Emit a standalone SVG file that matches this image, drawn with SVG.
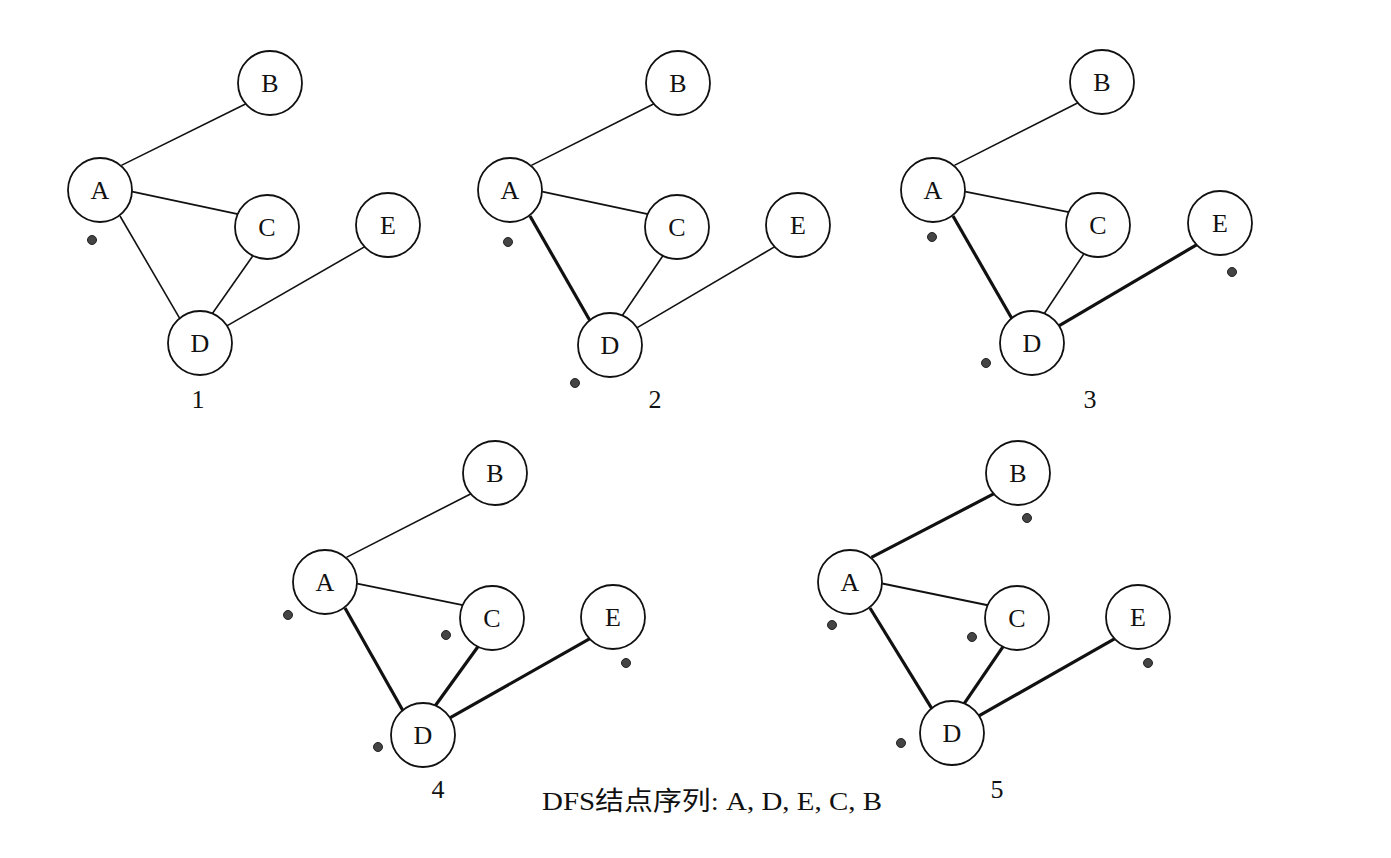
<svg xmlns="http://www.w3.org/2000/svg" width="1391" height="858" viewBox="0 0 1391 858">
<style>
.n circle{fill:#fff;stroke:#111;stroke-width:1.8}
.n text{font-family:"Liberation Serif","Times New Roman",serif;font-size:26px;fill:#111;text-anchor:middle}
.e line{stroke:#111;stroke-width:1.6}
.e line.t{stroke-width:3.2}
.d circle{fill:#444;stroke:#222;stroke-width:1}
.lbl{font-family:"Liberation Serif","Times New Roman",serif;font-size:26px;fill:#111;text-anchor:middle}
</style>
<rect width="1391" height="858" fill="#fff"/>

<!-- Graph 1 -->
<g id="g1-edges" class="e">
<line x1="121.4" y1="165.4" x2="247" y2="103.2"/>
<line x1="132.2" y1="191.6" x2="239.1" y2="214.4"/>
<line x1="120" y1="216" x2="180" y2="318.8"/>
<line x1="252.9" y1="255.8" x2="210.8" y2="315.7"/>
<line x1="226" y1="326.4" x2="365.3" y2="246.4"/>
</g>
<g id="g1-B" class="n"><circle cx="270" cy="83" r="32"/><text x="270" y="92">B</text></g>
<g id="g1-A" class="n"><circle cx="100" cy="190" r="32"/><text x="100" y="199">A</text></g>
<g id="g1-C" class="n"><circle cx="267" cy="227" r="32"/><text x="267" y="236">C</text></g>
<g id="g1-E" class="n"><circle cx="388" cy="225" r="32"/><text x="388" y="234">E</text></g>
<g id="g1-D" class="n"><circle cx="200" cy="343" r="32"/><text x="200" y="352">D</text></g>
<g class="d"><circle cx="92" cy="240" r="4.5"/></g>
<text class="lbl" x="198" y="408">1</text>

<!-- Graph 2 -->
<g id="g2-edges" class="e">
<line x1="531.4" y1="165.4" x2="655" y2="103.2"/>
<line x1="542.2" y1="191.6" x2="649.1" y2="214.4"/>
<line class="t" x1="530" y1="216" x2="590" y2="320.8"/>
<line x1="662.9" y1="255.8" x2="620.8" y2="317.7"/>
<line x1="636" y1="328.4" x2="775.3" y2="246.4"/>
</g>
<g id="g2-B" class="n"><circle cx="678" cy="83" r="32"/><text x="678" y="92">B</text></g>
<g id="g2-A" class="n"><circle cx="510" cy="190" r="32"/><text x="510" y="199">A</text></g>
<g id="g2-C" class="n"><circle cx="677" cy="227" r="32"/><text x="677" y="236">C</text></g>
<g id="g2-E" class="n"><circle cx="798" cy="225" r="32"/><text x="798" y="234">E</text></g>
<g id="g2-D" class="n"><circle cx="610" cy="345" r="32"/><text x="610" y="354">D</text></g>
<g class="d"><circle cx="508" cy="242" r="4.5"/><circle cx="575" cy="383" r="4.5"/></g>
<text class="lbl" x="655" y="408">2</text>

<!-- Graph 3 -->
<g id="g3-edges" class="e">
<line x1="954.4" y1="165.4" x2="1079" y2="102.2"/>
<line x1="965.2" y1="191.6" x2="1070.1" y2="212.4"/>
<line class="t" x1="953" y1="216" x2="1012" y2="318.8"/>
<line x1="1083.9" y1="253.8" x2="1042.8" y2="315.7"/>
<line class="t" x1="1058" y1="326.4" x2="1197.3" y2="244.4"/>
</g>
<g id="g3-B" class="n"><circle cx="1102" cy="82" r="32"/><text x="1102" y="91">B</text></g>
<g id="g3-A" class="n"><circle cx="933" cy="190" r="32"/><text x="933" y="199">A</text></g>
<g id="g3-C" class="n"><circle cx="1098" cy="225" r="32"/><text x="1098" y="234">C</text></g>
<g id="g3-E" class="n"><circle cx="1220" cy="223" r="32"/><text x="1220" y="232">E</text></g>
<g id="g3-D" class="n"><circle cx="1032" cy="343" r="32"/><text x="1032" y="352">D</text></g>
<g class="d"><circle cx="932" cy="237" r="4.5"/><circle cx="986" cy="363" r="4.5"/><circle cx="1232" cy="272" r="4.5"/></g>
<text class="lbl" x="1090" y="408">3</text>

<!-- Graph 4 -->
<g id="g4-edges" class="e">
<line x1="346.4" y1="557.4" x2="472" y2="493.2"/>
<line x1="357.2" y1="583.6" x2="464.1" y2="605.4"/>
<line class="t" x1="345" y1="608" x2="403" y2="710.8"/>
<line class="t" x1="477.9" y1="646.8" x2="433.8" y2="707.7"/>
<line class="t" x1="449" y1="718.4" x2="590.3" y2="638.4"/>
</g>
<g id="g4-B" class="n"><circle cx="495" cy="473" r="32"/><text x="495" y="482">B</text></g>
<g id="g4-A" class="n"><circle cx="325" cy="582" r="32"/><text x="325" y="591">A</text></g>
<g id="g4-C" class="n"><circle cx="492" cy="618" r="32"/><text x="492" y="627">C</text></g>
<g id="g4-E" class="n"><circle cx="613" cy="617" r="32"/><text x="613" y="626">E</text></g>
<g id="g4-D" class="n"><circle cx="423" cy="735" r="32"/><text x="423" y="744">D</text></g>
<g class="d"><circle cx="288" cy="615" r="4.5"/><circle cx="446" cy="635" r="4.5"/><circle cx="378" cy="747" r="4.5"/><circle cx="626" cy="663" r="4.5"/></g>
<text class="lbl" x="438" y="798">4</text>

<!-- Graph 5 -->
<g id="g5-edges" class="e">
<line class="t" x1="871.4" y1="557.4" x2="995" y2="493.2"/>
<line x1="882.2" y1="583.6" x2="989.1" y2="605.4" style="stroke-width:2"/>
<line class="t" x1="870" y1="608" x2="932" y2="708.8"/>
<line class="t" x1="1002.9" y1="646.8" x2="962.8" y2="705.7"/>
<line class="t" x1="978" y1="716.4" x2="1115.3" y2="638.4"/>
</g>
<g id="g5-B" class="n"><circle cx="1018" cy="473" r="32"/><text x="1018" y="482">B</text></g>
<g id="g5-A" class="n"><circle cx="850" cy="582" r="32"/><text x="850" y="591">A</text></g>
<g id="g5-C" class="n"><circle cx="1017" cy="618" r="32"/><text x="1017" y="627">C</text></g>
<g id="g5-E" class="n"><circle cx="1138" cy="617" r="32"/><text x="1138" y="626">E</text></g>
<g id="g5-D" class="n"><circle cx="952" cy="733" r="32"/><text x="952" y="742">D</text></g>
<g class="d"><circle cx="1027" cy="518" r="4.5"/><circle cx="832" cy="625" r="4.5"/><circle cx="972" cy="637" r="4.5"/><circle cx="1148" cy="663" r="4.5"/><circle cx="901" cy="743" r="4.5"/></g>
<text class="lbl" x="997" y="798">5</text>

<text x="542" y="810" textLength="340" lengthAdjust="spacingAndGlyphs" style="font-family:'Liberation Serif','Noto Sans CJK SC',serif;font-size:26px;fill:#111">DFS结点序列: A, D, E, C, B</text>
</svg>
